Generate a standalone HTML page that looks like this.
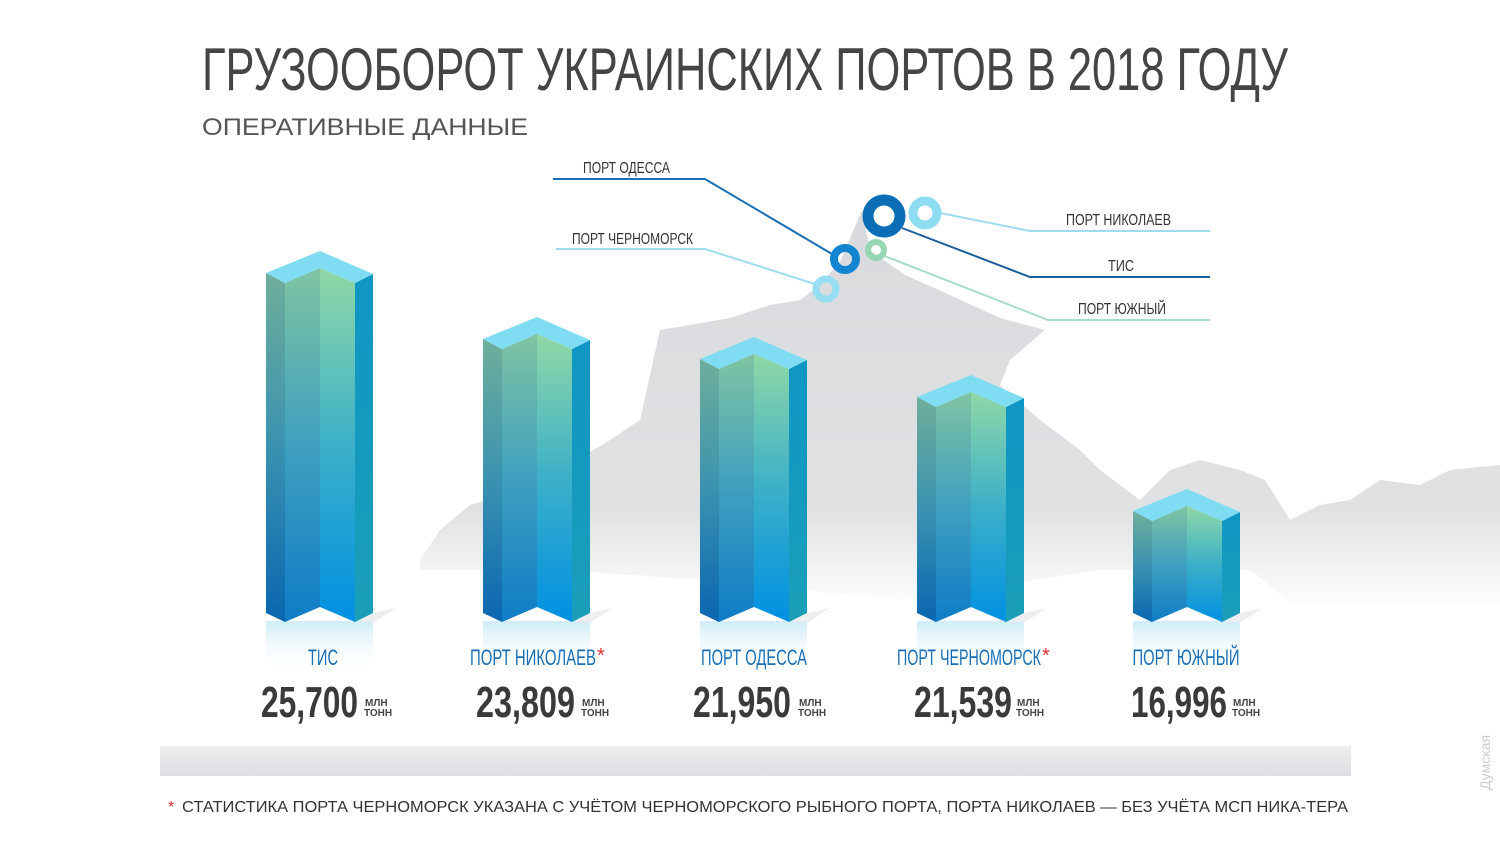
<!DOCTYPE html>
<html><head><meta charset="utf-8"><style>
html,body{margin:0;padding:0;background:#fff;}
svg{display:block;}
text{font-family:"Liberation Sans Narrow","Liberation Sans",sans-serif;}
</style></head><body>
<svg width="1500" height="841" viewBox="0 0 1500 841" xmlns="http://www.w3.org/2000/svg">
<defs>
<linearGradient id="map" x1="0" y1="0" x2="0" y2="1">
<stop offset="0" stop-color="#d8dadd"/><stop offset="0.75" stop-color="#dfe1e3"/><stop offset="1" stop-color="#ffffff"/></linearGradient>
<linearGradient id="fa" x1="0" y1="0" x2="0" y2="1"><stop offset="0" stop-color="#6fae9a"/><stop offset="0.5" stop-color="#3a92b0"/><stop offset="1" stop-color="#0a66b0"/></linearGradient>
<linearGradient id="fb" x1="0" y1="0" x2="0" y2="1"><stop offset="0" stop-color="#80c4a2"/><stop offset="0.5" stop-color="#3fa0bf"/><stop offset="1" stop-color="#0f7cc6"/></linearGradient>
<linearGradient id="fc" x1="0" y1="0" x2="0" y2="1"><stop offset="0" stop-color="#90d8a6"/><stop offset="0.5" stop-color="#3cb0c8"/><stop offset="1" stop-color="#0090e2"/></linearGradient>
<linearGradient id="fd" x1="0" y1="0" x2="0" y2="1"><stop offset="0" stop-color="#0f96c4"/><stop offset="1" stop-color="#1a9eb8"/></linearGradient>
<linearGradient id="refl" x1="0" y1="0" x2="0" y2="1"><stop offset="0" stop-color="#9fd8ef" stop-opacity="0.5"/><stop offset="1" stop-color="#ffffff" stop-opacity="0"/></linearGradient>
<linearGradient id="gb" x1="0" y1="0" x2="0" y2="1"><stop offset="0" stop-color="#eceef0"/><stop offset="1" stop-color="#dcdee1"/></linearGradient>
</defs>
<polygon fill="url(#map)" points="420,560 440,530 470,505 520,490 560,470 610,440 640,420 660,330 690,325 730,318 770,305 800,300 820,285 840,262 862,210 870,250 905,275 950,295 1000,318 1045,330 1010,360 1000,385 1040,420 1080,450 1100,470 1140,500 1170,470 1200,460 1240,470 1265,480 1290,520 1320,505 1350,500 1380,480 1420,485 1450,470 1500,465 1500,610 1300,610 1250,570 1100,570 900,600 700,580 560,570 420,570"/>
<text x="202" y="90" font-size="60" fill="#454545" textLength="1086" lengthAdjust="spacingAndGlyphs">ГРУЗООБОРОТ УКРАИНСКИХ ПОРТОВ В 2018 ГОДУ</text>
<text x="202" y="135" font-size="24" fill="#555" style="font-family:'Liberation Sans',sans-serif" textLength="326" lengthAdjust="spacingAndGlyphs">ОПЕРАТИВНЫЕ ДАННЫЕ</text>
<g fill="none" stroke-width="2">
<polyline points="553,179 705,179 832,254" stroke="#1a6fb4"/>
<polyline points="556,249 705,249 818,285" stroke="#9fdcef"/>
<polyline points="935,212 1030,231 1210,231" stroke="#9fdcef"/>
<polyline points="902,228 1030,277 1210,277" stroke="#1a5f9a"/>
<polyline points="882,255 1048,320 1210,320" stroke="#a9dcc6"/>
</g>
<g font-size="16" fill="#333">
<text x="583" y="173" textLength="87" lengthAdjust="spacingAndGlyphs">ПОРТ ОДЕССА</text>
<text x="572" y="244" textLength="121" lengthAdjust="spacingAndGlyphs">ПОРТ ЧЕРНОМОРСК</text>
<text x="1066" y="225" textLength="105" lengthAdjust="spacingAndGlyphs">ПОРТ НИКОЛАЕВ</text>
<text x="1108" y="271" textLength="26" lengthAdjust="spacingAndGlyphs">ТИС</text>
<text x="1078" y="314" textLength="88" lengthAdjust="spacingAndGlyphs">ПОРТ ЮЖНЫЙ</text>
</g>
<circle cx="884" cy="216" r="16" fill="none" stroke="#0a6db5" stroke-width="11"/>
<circle cx="925" cy="213" r="12" fill="none" stroke="#8ddcf2" stroke-width="9"/>
<circle cx="845" cy="259" r="11" fill="none" stroke="#1285d0" stroke-width="8"/>
<circle cx="876" cy="250" r="8" fill="none" stroke="#96d6b2" stroke-width="6"/>
<circle cx="826" cy="289" r="10" fill="none" stroke="#96def2" stroke-width="7"/>
<g id="bars"></g>
<g font-size="22" fill="#1a6fb4" text-anchor="middle">
<text x="323" y="665" textLength="30" lengthAdjust="spacingAndGlyphs">ТИС</text>
<text x="533" y="665" textLength="126" lengthAdjust="spacingAndGlyphs">ПОРТ НИКОЛАЕВ</text>
<text x="754" y="665" textLength="106" lengthAdjust="spacingAndGlyphs">ПОРТ ОДЕССА</text>
<text x="969" y="665" textLength="144" lengthAdjust="spacingAndGlyphs">ПОРТ ЧЕРНОМОРСК</text>
<text x="1186" y="665" textLength="107" lengthAdjust="spacingAndGlyphs">ПОРТ ЮЖНЫЙ</text>
</g>
<g font-size="20" fill="#e03030"><text x="597" y="662">*</text><text x="1042" y="662">*</text></g>
<g font-size="44" font-weight="bold" fill="#3a3a3a">
<text x="261" y="717" textLength="97" lengthAdjust="spacingAndGlyphs">25,700</text>
<text x="476" y="717" textLength="99" lengthAdjust="spacingAndGlyphs">23,809</text>
<text x="693" y="717" textLength="98" lengthAdjust="spacingAndGlyphs">21,950</text>
<text x="914" y="717" textLength="98" lengthAdjust="spacingAndGlyphs">21,539</text>
<text x="1131" y="717" textLength="96" lengthAdjust="spacingAndGlyphs">16,996</text>
</g>
<g font-size="10" fill="#444" font-weight="bold">
<text x="365" y="706">МЛН</text><text x="364" y="716">ТОНН</text>
<text x="582" y="706">МЛН</text><text x="581" y="716">ТОНН</text>
<text x="799" y="706">МЛН</text><text x="798" y="716">ТОНН</text>
<text x="1017" y="706">МЛН</text><text x="1016" y="716">ТОНН</text>
<text x="1233" y="706">МЛН</text><text x="1232" y="716">ТОНН</text>
</g>
<rect x="160" y="746" width="1191" height="30" fill="url(#gb)"/>
<text x="168" y="812" font-size="16" fill="#e03030" style="font-family:'Liberation Sans',sans-serif">*</text>
<text x="182" y="812" font-size="15.5" fill="#333" style="font-family:'Liberation Sans',sans-serif" textLength="1166" lengthAdjust="spacingAndGlyphs">СТАТИСТИКА ПОРТА ЧЕРНОМОРСК УКАЗАНА С УЧЁТОМ ЧЕРНОМОРСКОГО РЫБНОГО ПОРТА,  ПОРТА НИКОЛАЕВ — БЕЗ УЧЁТА МСП НИКА-ТЕРА</text>
<text x="1490" y="790" font-size="14" fill="#ccc" transform="rotate(-90 1490 790)">Думская</text>
</svg>
<script>
var bars=[[266,251],[483,317],[700,337],[917,375],[1133,489]];
var b=613,h='';
bars.forEach(function(p){var x=p[0],t=p[1];
function P(a){return a.map(function(q){return (x+q[0])+','+q[1]}).join(' ')}
h+='<polygon fill="url(#refl)" points="'+P([[0,b+8],[107,b+8],[107,b+60],[0,b+60]])+'"/>';
h+='<polygon fill="#e8eaec" opacity="0.8" points="'+P([[89,b+8],[107,b],[130,b-5],[107,b+10]])+'"/>';
h+='<polygon fill="url(#fa)" points="'+P([[0,t+22],[19,t+32],[19,b+9],[0,b]])+'"/>';
h+='<polygon fill="url(#fb)" points="'+P([[19,t+32],[54,t+17],[54,b-6],[19,b+9]])+'"/>';
h+='<polygon fill="url(#fc)" points="'+P([[54,t+17],[89,t+32],[89,b+9],[54,b-6]])+'"/>';
h+='<polygon fill="url(#fd)" points="'+P([[89,t+32],[107,t+23],[107,b],[89,b+9]])+'"/>';
h+='<polygon fill="#7fdcf2" points="'+P([[0,t+22],[54,t],[107,t+23],[89,t+32],[54,t+17],[19,t+32]])+'"/>';
});
document.getElementById('bars').innerHTML=h;
</script>
</body></html>
